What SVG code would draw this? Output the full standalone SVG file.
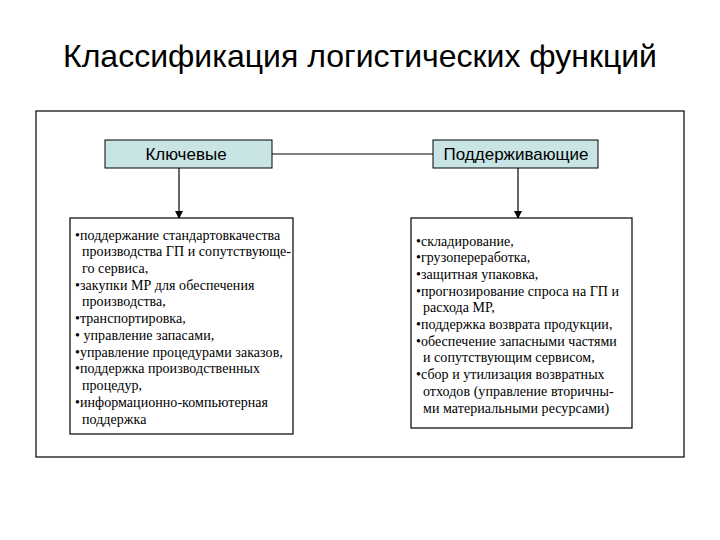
<svg xmlns="http://www.w3.org/2000/svg" width="720" height="540" viewBox="0 0 720 540">
<defs>
<style>
.title{font-family:"Liberation Sans",Arial,sans-serif;font-size:32px;fill:#000}
.head{fill:#c8e4e4;stroke:#000;stroke-width:1}
.ht{font-family:"Liberation Sans",Arial,sans-serif;font-size:17px;fill:#000;text-anchor:middle}
.box{fill:#fff;stroke:#000;stroke-width:1.2}
.lt{font-family:"Liberation Serif","Times New Roman",serif;font-size:14px;letter-spacing:0.05px;fill:#000}
.ln{stroke:#000;stroke-width:1.2;fill:none}
</style>
<marker id="arr" markerWidth="8" markerHeight="8" refX="7" refY="4" orient="auto" markerUnits="userSpaceOnUse">
<path d="M0,0 L8,4 L0,8 z" fill="#000"/>
</marker>
</defs>
<rect width="720" height="540" fill="#fff"/>
<text class="title" x="360" y="67" text-anchor="middle">Классификация логистических функций</text>
<rect id="frame" x="36" y="111" width="648" height="346" fill="none" stroke="#000" stroke-width="1.2"/>
<g id="connectors">
<line class="ln" x1="272" y1="154" x2="433" y2="154"/>
<line class="ln" x1="179" y1="168" x2="179" y2="218" marker-end="url(#arr)"/>
<line class="ln" x1="518" y1="168" x2="518" y2="218" marker-end="url(#arr)"/>
</g>
<g id="key">
<rect class="head" x="105" y="140" width="167" height="28"/>
<text class="ht" x="186" y="160">Ключевые</text>
</g>
<g id="support">
<rect class="head" x="433" y="140" width="165" height="28"/>
<text class="ht" x="516" y="160">Поддерживающие</text>
</g>
<g id="key-list">
<rect class="box" x="70" y="218" width="223" height="216"/>
<text class="lt">
<tspan x="75" y="239.5">•поддержание стандартовкачества</tspan>
<tspan x="82" y="256.2">производства ГП и сопутствующе-</tspan>
<tspan x="82" y="273">го сервиса,</tspan>
<tspan x="75" y="289.7">•закупки МР для обеспечения</tspan>
<tspan x="82" y="306.4">производства,</tspan>
<tspan x="75" y="323.2">•транспортировка,</tspan>
<tspan x="75" y="339.9">• управление запасами,</tspan>
<tspan x="75" y="356.6">•управление процедурами заказов,</tspan>
<tspan x="75" y="373.4">•поддержка производственных</tspan>
<tspan x="82" y="390.1">процедур,</tspan>
<tspan x="75" y="406.8">•информационно-компьютерная</tspan>
<tspan x="82" y="423.6">поддержка</tspan>
</text>
</g>
<g id="support-list">
<rect class="box" x="411" y="218" width="221" height="210"/>
<text class="lt">
<tspan x="416" y="245.5">•складирование,</tspan>
<tspan x="416" y="262.2">•грузопереработка,</tspan>
<tspan x="416" y="278.9">•защитная упаковка,</tspan>
<tspan x="416" y="295.6">•прогнозирование спроса на ГП и</tspan>
<tspan x="423" y="312.3">расхода МР,</tspan>
<tspan x="416" y="329">•поддержка возврата продукции,</tspan>
<tspan x="416" y="345.7">•обеспечение запасными частями</tspan>
<tspan x="423" y="362.4">и сопутствующим сервисом,</tspan>
<tspan x="416" y="379.1">•сбор и утилизация возвратных</tspan>
<tspan x="423" y="395.8">отходов (управление вторичны-</tspan>
<tspan x="423" y="412.5">ми   материальными ресурсами)</tspan>
</text>
</g>
</svg>
